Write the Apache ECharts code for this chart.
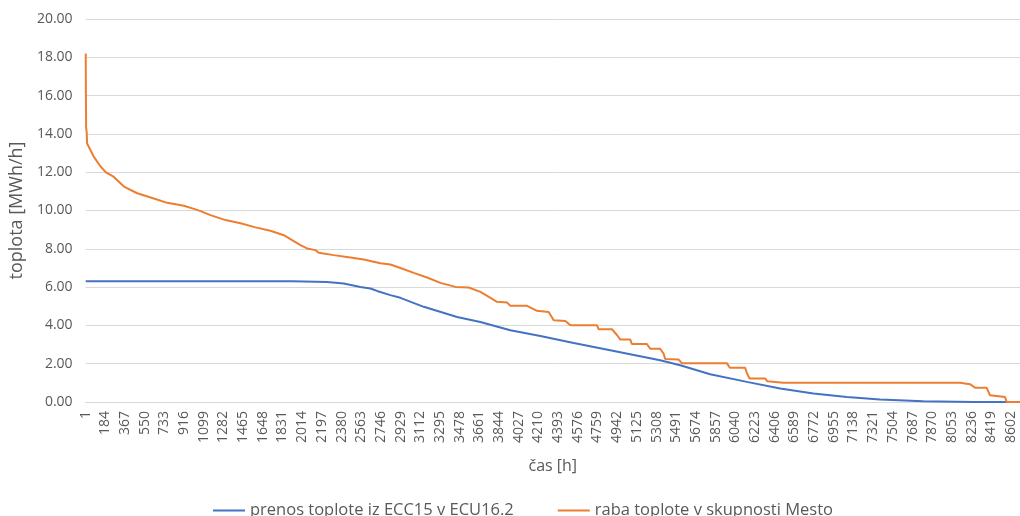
<!DOCTYPE html>
<html>
<head>
<meta charset="utf-8">
<script src="https://cdn.jsdelivr.net/npm/echarts@6/dist/echarts.min.js"></script>
<style>
  html, body { margin: 0; padding: 0; background: #fff; }
  #chart { width: 1020px; height: 516px; }
</style>
</head>
<body>
<div id="chart"></div>
<script>
// hour of the year (sorted duration curve) and heat values
var prenosHours = [1, 1920, 1930, 2245, 2399, 2554, 2647, 2709, 2833, 2926, 3143, 3453, 3669, 3948, 4227, 4537, 4876, 5340, 5527, 5805, 6146, 6456, 6765, 7075, 7384, 7787, 8251, 8760];
var prenosValues = [6.31, 6.31, 6.27, 6.26, 6.19, 6.01, 5.93, 5.80, 5.58, 5.44, 4.97, 4.44, 4.18, 3.75, 3.45, 3.08, 2.70, 2.18, 1.92, 1.45, 1.05, 0.70, 0.44, 0.26, 0.13, 0.04, 0.00, 0.00];

var rabaHours = [1, 3, 5, 10, 14, 77, 139, 186, 263, 356, 480, 634, 759, 913, 1022, 1068, 1161, 1300, 1440, 1579, 1718, 1842, 1904, 1997, 2059, 2136, 2167, 2306, 2461, 2585, 2740, 2833, 2926, 3050, 3174, 3298, 3437, 3561, 3669, 3760, 3824, 3917, 3948, 4103, 4196, 4304, 4351, 4459, 4506, 4753, 4768, 4892, 4939, 4970, 5063, 5077, 5217, 5248, 5340, 5372, 5387, 5511, 5542, 5960, 5988, 6130, 6146, 6170, 6316, 6337, 6486, 8127, 8220, 8267, 8375, 8406, 8546, 8561, 8760];
var rabaValues = [18.2, 16.0, 14.3, 14.1, 13.5, 12.8, 12.3, 12.0, 11.75, 11.25, 10.9, 10.63, 10.4, 10.25, 10.06, 9.97, 9.76, 9.5, 9.33, 9.12, 8.94, 8.71, 8.5, 8.19, 8.02, 7.93, 7.79, 7.67, 7.55, 7.44, 7.25, 7.18, 7.0, 6.74, 6.5, 6.22, 6.01, 5.98, 5.75, 5.45, 5.23, 5.2, 5.02, 5.02, 4.76, 4.7, 4.27, 4.23, 4.01, 4.01, 3.8, 3.8, 3.5, 3.26, 3.26, 3.03, 3.03, 2.78, 2.78, 2.53, 2.25, 2.22, 2.03, 2.03, 1.79, 1.79, 1.52, 1.23, 1.23, 1.08, 1.01, 1.0, 0.93, 0.75, 0.75, 0.35, 0.26, 0, 0];

var seriesNames = ['prenos toplote iz ECC15 v ECU16.2', 'raba toplote v skupnosti Mesto'];
var seriesColors = ['#4472C4', '#ED7D31'];

function pairs(xs, ys) {
  var out = [];
  for (var i = 0; i < xs.length; i++) {
    out.push([xs[i], ys[i]]);
  }
  return out;
}

var chart = echarts.init(document.getElementById('chart'), null, { renderer: 'canvas' });
var font = '"Open Sans", "Noto Sans", sans-serif';
var option = {
  animation: false,
  color: seriesColors,
  textStyle: { fontFamily: font, color: '#595959' },
  grid: { left: 85, right: 0, top: 19, bottom: 114 },
  legend: {
    top: 497,
    left: 208,
    itemWidth: 32,
    itemHeight: 2,
    itemGap: 44,
    icon: 'rect',
    textStyle: { fontFamily: font, fontSize: 16.5, color: '#595959' },
    data: seriesNames
  },
  xAxis: {
    type: 'value',
    min: 0,
    max: 8685,
    interval: 183,
    name: 'čas [h]',
    nameLocation: 'middle',
    nameGap: 56,
    nameTextStyle: { fontFamily: font, fontSize: 16, color: '#595959' },
    axisLine: { show: true, lineStyle: { color: '#D9D9D9', width: 1 } },
    axisTick: { show: false },
    splitLine: { show: false },
    axisLabel: {
      rotate: 90,
      margin: 9,
      fontSize: 14,
      color: '#595959',
      fontFamily: font,
      showMaxLabel: false,
      formatter: function (v) { return String(v + 1); }
    }
  },
  yAxis: {
    type: 'value',
    min: 0,
    max: 20,
    interval: 2,
    name: 'toplota [MWh/h]',
    nameLocation: 'middle',
    nameGap: 55,
    nameTextStyle: { fontFamily: font, fontSize: 18, color: '#595959' },
    axisLine: { show: false },
    axisTick: { show: false },
    splitLine: { lineStyle: { color: '#D9D9D9', width: 1 } },
    axisLabel: {
      margin: 13,
      fontSize: 14,
      color: '#595959',
      fontFamily: font,
      formatter: function (v) { return v.toFixed(2); }
    }
  },
  series: [
    {
      name: seriesNames[0],
      type: 'line',
      symbol: 'none',
      lineStyle: { width: 2, color: seriesColors[0] },
      data: pairs(prenosHours, prenosValues)
    },
    {
      name: seriesNames[1],
      type: 'line',
      symbol: 'none',
      lineStyle: { width: 2, color: seriesColors[1] },
      data: pairs(rabaHours, rabaValues)
    }
  ]
};
chart.setOption(option);
</script>
</body>
</html>
